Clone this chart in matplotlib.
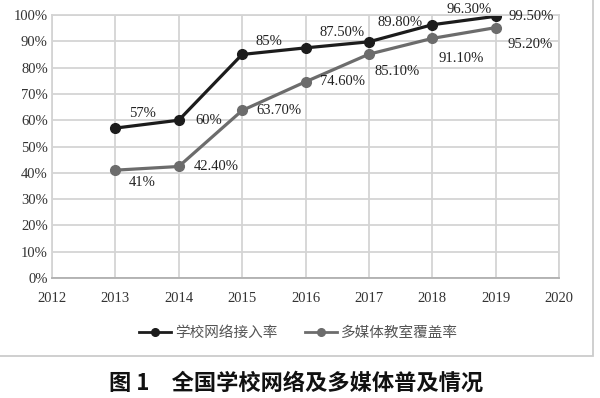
import matplotlib
matplotlib.use("Agg")
import matplotlib.pyplot as plt
from matplotlib.patches import Rectangle
from matplotlib.ticker import MultipleLocator, FuncFormatter

years = [2013, 2014, 2015, 2016, 2017, 2018, 2019]
network = [57, 60, 85, 87.5, 89.8, 96.3, 99.5]
multimedia = [41, 42.4, 63.7, 74.6, 85.1, 91.1, 95.2]
network_labels = ["57%", "60%", "85%", "87.50%", "89.80%", "96.30%", "99.50%"]
multimedia_labels = ["41%", "42.40%", "63.70%", "74.60%", "85.10%", "91.10%", "95.20%"]
series_names = ["学校网络接入率", "多媒体教室覆盖率"]
title = "图 1　全国学校网络及多媒体普及情况"

# label offsets in pixels (dx, dy) relative to each point
net_off = [(27, 15), (30, 0), (27, 13), (37, 15), (31, 19), (37, 15), (36, 0)]
mm_off = [(27, -12), (37, 0), (37, 0), (37, 0), (28, -17), (29, -20), (34, -17)]

serif = "Liberation Serif"
cjk = ["Noto Sans CJK SC", "DejaVu Sans"]

fig = plt.figure(figsize=(6, 3.98), dpi=100)
ax = fig.add_axes([52 / 600, 1 - 278 / 398, 507 / 600, 263 / 398])

grid_c = "#d4d4d4"
ax.set_xlim(2012, 2020)
ax.set_ylim(0, 100)
ax.xaxis.set_major_locator(MultipleLocator(1))
ax.yaxis.set_major_locator(MultipleLocator(10))
ax.yaxis.set_major_formatter(FuncFormatter(lambda v, p: f"{int(v)}%"))
ax.grid(True, color=grid_c, linewidth=1.3)
ax.set_axisbelow(True)
for s in ["top", "right", "left"]:
    ax.spines[s].set_color(grid_c)
    ax.spines[s].set_linewidth(1.3)
ax.spines["bottom"].set_color("#b0b0b0")
ax.spines["bottom"].set_linewidth(1.3)
ax.tick_params(length=0, labelsize=10.5, labelcolor="#333333")
ax.tick_params(axis="x", pad=10)
ax.tick_params(axis="y", pad=3)
for lab in ax.get_xticklabels() + ax.get_yticklabels():
    lab.set_fontfamily(serif)

l1, = ax.plot(years, network, color="#1c1c1c", linewidth=2.3, marker="o",
              markersize=7, label=series_names[0])
l2, = ax.plot(years, multimedia, color="#6c6c6c", linewidth=2.3, marker="o",
              markersize=7, label=series_names[1])

for x, y, t, (dx, dy) in zip(years, network, network_labels, net_off):
    ax.annotate(t, (x, y), xytext=(dx, dy), textcoords="offset pixels",
                ha="center", va="center", fontsize=10.5, family=serif,
                color="#222222")
for x, y, t, (dx, dy) in zip(years, multimedia, multimedia_labels, mm_off):
    ax.annotate(t, (x, y), xytext=(dx, dy), textcoords="offset pixels",
                ha="center", va="center", fontsize=10.5, family=serif,
                color="#222222")

# legend uses thinner handles than the plotted lines
h1, = ax.plot([], [], color="#1c1c1c", linewidth=2, marker="o", markersize=5.5)
h2, = ax.plot([], [], color="#6c6c6c", linewidth=2, marker="o", markersize=5.5)
leg = fig.legend(handles=[h1, h2], labels=series_names, loc="center",
                 bbox_to_anchor=(0.497, 1 - 333 / 398), ncol=2, frameon=False,
                 handlelength=2.2, columnspacing=1.9, handletextpad=0.25,
                 prop={"family": cjk, "size": 10.5})
for t in leg.get_texts():
    t.set_color("#555555")

# outer chart frame
fig.patches.append(Rectangle((-2 / 600, 1 - 356 / 398), 595 / 600, 360 / 398,
                             transform=fig.transFigure, fill=False,
                             edgecolor="#cccccc", linewidth=1.3))

fig.text(0.493, 1 - 383 / 398, title, ha="center", va="center",
         fontsize=16, fontweight="bold", family=cjk, color="#111111")

fig.savefig("out.png", dpi=100)
